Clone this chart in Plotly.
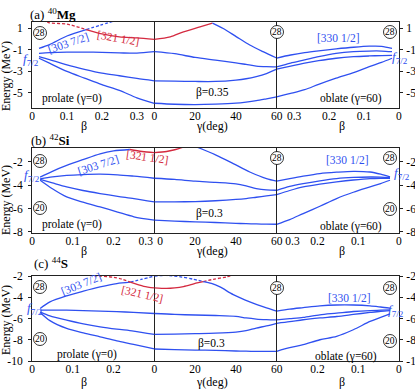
import plotly.graph_objects as go

W, H = 415, 389
BLUE = "#2f50f0"
RED = "#d42a40"
FONT = "Liberation Serif"
NB = "\u00a0"

# ---------------- (a) 40Mg  (beta up to 0.35) ----------------
mg_beta_max = 0.35
mg_e_range = [-6.4, 1.6]
mg_e_ticks = [1, -1, -3, -5]
mg_e_ticktext = ["1", "-1", "-3", "-5"]
mg_pro_ticks = [0, 0.1, 0.2, 0.3]
mg_pro_ticktext = ["0", "0.1", "0.2", "0.3"]
mg_gam_ticktext = ["0", "20", "40", "60"]
mg_obl_ticks = [0.3, 0.2, 0.1, 0]
mg_obl_ticktext = ["0.3", "0.2", "0.1", "0"]

mg_pro_beta = [0.02, 0.05, 0.1, 0.15, 0.2, 0.25, 0.3, 0.35]
mg_pro_lv2 = [-1.31, -1.25, -1.2, -1.2, -1.22, -1.27, -1.3, -1.16]
mg_pro_lv3 = [-1.62, -1.9, -2.39, -2.8, -3.16, -3.4, -3.65, -3.87]
mg_pro_lv4 = [-1.77, -2.23, -3.0, -3.62, -4.23, -4.76, -5.45, -5.96]
mg_pro_303_beta = [0.02, 0.05, 0.1, 0.155]
mg_pro_303_e = [-0.85, -0.5, 0.3, 0.9]
mg_pro_303d_beta = [0.155, 0.195, 0.235]
mg_pro_303d_e = [0.9, 1.3, 1.7]
mg_pro_321d_beta = [0.03, 0.05, 0.1, 0.155]
mg_pro_321d_e = [1.75, 1.52, 1.4, 0.9]
mg_pro_321_beta = [0.155, 0.2, 0.25, 0.3, 0.35]
mg_pro_321_e = [0.9, 0.5, 0.22, 0.12, -0.02]

mg_gam = [0, 10, 20, 30, 40, 45, 50, 55, 60]
mg_gam_lv2 = [-1.16, -1.35, -1.7, -1.95, -2.2, -2.35, -2.5, -2.56, -2.58]
mg_gam_lv3 = [-3.87, -3.9, -3.93, -3.93, -3.8, -3.68, -3.48, -3.2, -2.79]
mg_gam_lv4 = [-5.96, -6.05, -6.08, -6.04, -5.95, -5.85, -5.72, -5.55, -5.37]
mg_gam_321_g = [0, 7.8, 14.3, 22.4, 28.5]
mg_gam_321_e = [-0.02, 0.22, 0.69, 1.15, 1.5]
mg_gam_top_g = [28.5, 33.8, 40.3, 46.8, 53.3, 60]
mg_gam_top_e = [1.5, 1.0, 0.22, -0.54, -1.16, -1.75]

mg_obl_beta = [0.35, 0.31, 0.27, 0.23, 0.18, 0.13, 0.085, 0.05, 0.02]
mg_obl_lv1 = [-1.75, -1.47, -1.25, -1.08, -0.9, -0.75, -0.65, -0.66, -0.85]
mg_obl_lv2 = [-2.58, -2.22, -1.93, -1.62, -1.31, -1.15, -1.1, -1.1, -1.16]
mg_obl_lv3 = [-2.79, -2.5, -2.23, -2.0, -1.77, -1.63, -1.56, -1.52, -1.5]
mg_obl_lv4 = [-5.37, -5.05, -4.7, -4.2, -3.62, -3.1, -2.55, -2.15, -1.77]

# ---------------- (b) 42Si  (beta up to 0.3) ----------------
si_beta_max = 0.3
si_e_range = [-8.1, -0.8]
si_e_ticks = [-2, -4, -6, -8]
si_e_ticktext = ["-2", "-4", "-6", "-8"]
si_pro_ticks = [0, 0.1, 0.2, 0.3]
si_pro_ticktext = ["0", "0.1", "0.2", "0.3" + NB * 6]
si_gam_ticktext = [NB * 4 + "0", "20", "40", "60"]
si_obl_ticks = [0.3, 0.2, 0.1, 0]
si_obl_ticktext = [NB * 11 + "0.3", "0.2", "0.1", "0"]

si_pro_beta = [0.02, 0.05, 0.085, 0.125, 0.167, 0.21, 0.25, 0.3]
si_pro_lv2 = [-3.45, -3.28, -3.15, -3.08, -3.05, -3.1, -3.22, -3.4]
si_pro_lv3 = [-3.5, -3.8, -4.14, -4.45, -4.71, -4.95, -5.14, -5.43]
si_pro_lv4 = [-3.57, -4.3, -5.0, -5.45, -5.86, -6.3, -6.71, -7.0]
si_pro_303_beta = [0.02, 0.05, 0.085, 0.125, 0.167, 0.2, 0.24]
si_pro_303_e = [-3.3, -2.8, -2.3, -1.8, -1.3, -1.05, -0.93]
si_pro_321_beta = [0.24, 0.27, 0.3]
si_pro_321_e = [-0.93, -1.1, -1.2]

si_gam = [0, 10, 20, 30, 40, 45, 50, 55, 60]
si_gam_lv2 = [-3.4, -3.5, -3.65, -3.75, -3.88, -4.05, -4.28, -4.4, -4.43]
si_gam_lv3 = [-5.43, -5.43, -5.4, -5.33, -5.22, -5.14, -5.03, -4.92, -4.8]
si_gam_lv4 = [-7.0, -7.08, -7.14, -7.2, -7.27, -7.3, -7.32, -7.34, -7.35]
si_gam_321_g = [0, 6, 10, 13, 16]
si_gam_321_e = [-1.2, -1.1, -0.95, -0.8, -0.6]
si_gam_top_g = [19, 22, 30.5, 38.7, 46.8, 55, 60]
si_gam_top_e = [-0.6, -0.8, -1.43, -2.14, -2.86, -3.43, -3.65]

si_obl_beta = [0.3, 0.268, 0.235, 0.194, 0.153, 0.112, 0.071, 0.045, 0.022]
si_obl_lv1 = [-3.65, -3.43, -3.22, -3.0, -2.88, -2.8, -2.86, -3.05, -3.29]
si_obl_lv2 = [-4.43, -4.1, -3.86, -3.62, -3.43, -3.33, -3.29, -3.3, -3.34]
si_obl_lv3 = [-4.8, -4.45, -4.14, -3.9, -3.71, -3.55, -3.43, -3.4, -3.4]
si_obl_lv4 = [-7.35, -6.95, -6.43, -5.8, -5.14, -4.6, -4.14, -3.85, -3.57]

# ---------------- (c) 44S  (beta up to 0.3) ----------------
s_beta_max = 0.3
s_e_range = [-10, -2]
s_e_ticks = [-2, -4, -6, -8, -10]
s_e_ticktext = ["-2", "-4", "-6", "-8", "-10"]
s_pro_ticks = [0, 0.1, 0.2]
s_pro_ticktext = ["0", "0.1", "0.2"]
s_gam_ticktext = ["0", "20", "40", "60"]
s_obl_ticks = [0.2, 0.1, 0]
s_obl_ticktext = ["0.2", "0.1", "0"]

s_pro_beta = [0.02, 0.044, 0.085, 0.126, 0.167, 0.208, 0.249, 0.3]
s_pro_lv2 = [-5.21, -5.21, -5.21, -5.25, -5.3, -5.36, -5.42, -5.53]
s_pro_lv3 = [-5.37, -5.75, -6.15, -6.5, -6.78, -7.0, -7.18, -7.5]
s_pro_lv4 = [-5.43, -6.2, -6.93, -7.35, -7.72, -8.1, -8.43, -8.87]
s_pro_303_beta = [0.02, 0.044, 0.085, 0.126, 0.167, 0.208, 0.241]
s_pro_303_e = [-5.06, -4.44, -3.87, -3.43, -3.03, -2.71, -2.58]
s_pro_303d_beta = [0.241, 0.27, 0.3]
s_pro_303d_e = [-2.58, -2.3, -2.0]
s_pro_321d_beta = [0.14, 0.167, 0.2, 0.22, 0.241]
s_pro_321d_e = [-1.92, -2.0, -2.12, -2.3, -2.58]
s_pro_321_beta = [0.241, 0.274, 0.3]
s_pro_321_e = [-2.58, -2.97, -3.12]

s_gam = [0, 10, 20, 30, 40, 45, 50, 55, 60]
s_gam_lv2 = [-5.53, -5.62, -5.67, -5.72, -5.8, -5.95, -6.05, -6.1, -6.13]
s_gam_lv3 = [-7.5, -7.47, -7.43, -7.38, -7.28, -7.15, -6.9, -6.7, -6.45]
s_gam_lv4 = [-8.87, -8.93, -8.97, -9.0, -9.06, -9.08, -9.09, -9.09, -9.09]
s_gam_303d_g = [0, 6, 13.5, 19, 24]
s_gam_303d_e = [-2.0, -1.95, -2.1, -2.3, -2.53]
s_gam_321_g = [0, 6, 10, 14.3, 18, 21, 24]
s_gam_321_e = [-3.12, -3.17, -3.12, -3.0, -2.82, -2.65, -2.53]
s_gam_321d_g = [24, 29, 35.4, 38]
s_gam_321d_e = [-2.53, -2.31, -2.09, -1.95]
s_gam_top_g = [24, 28, 32.2, 38.7, 46.8, 55, 60]
s_gam_top_e = [-2.53, -2.7, -3.03, -3.75, -4.43, -5.0, -5.31]

s_obl_beta = [0.3, 0.268, 0.235, 0.194, 0.153, 0.112, 0.071, 0.045, 0.022]
s_obl_lv1 = [-5.31, -5.12, -4.98, -4.81, -4.73, -4.73, -4.81, -4.92, -5.03]
s_obl_lv2 = [-6.13, -6.02, -5.9, -5.65, -5.5, -5.34, -5.25, -5.22, -5.19]
s_obl_lv3 = [-6.45, -6.3, -6.12, -5.95, -5.81, -5.62, -5.43, -5.32, -5.25]
s_obl_lv4 = [-9.09, -8.75, -8.47, -8.0, -7.68, -7.06, -6.28, -5.9, -5.56]

gam_ticks = [0, 20, 40, 60]

# ---------------- figure assembly ----------------
panels = [
    dict(top=22, bottom=108, bmax=mg_beta_max, yr=mg_e_range, yt=mg_e_ticks, ytt=mg_e_ticktext,
         xt=[(mg_pro_ticks, mg_pro_ticktext), (gam_ticks, mg_gam_ticktext), (mg_obl_ticks, mg_obl_ticktext)],
         curves=[
             [(mg_pro_beta, mg_pro_lv2, BLUE, "solid"), (mg_pro_beta, mg_pro_lv3, BLUE, "solid"),
              (mg_pro_beta, mg_pro_lv4, BLUE, "solid"), (mg_pro_303_beta, mg_pro_303_e, BLUE, "solid"),
              (mg_pro_303d_beta, mg_pro_303d_e, BLUE, "dash"), (mg_pro_321d_beta, mg_pro_321d_e, RED, "dash"),
              (mg_pro_321_beta, mg_pro_321_e, RED, "solid")],
             [(mg_gam, mg_gam_lv2, BLUE, "solid"), (mg_gam, mg_gam_lv3, BLUE, "solid"),
              (mg_gam, mg_gam_lv4, BLUE, "solid"), (mg_gam_321_g, mg_gam_321_e, RED, "solid"),
              (mg_gam_top_g, mg_gam_top_e, BLUE, "solid")],
             [(mg_obl_beta, mg_obl_lv1, BLUE, "solid"), (mg_obl_beta, mg_obl_lv2, BLUE, "solid"),
              (mg_obl_beta, mg_obl_lv3, BLUE, "solid"), (mg_obl_beta, mg_obl_lv4, BLUE, "solid")],
         ]),
    dict(top=148, bottom=233, bmax=si_beta_max, yr=si_e_range, yt=si_e_ticks, ytt=si_e_ticktext,
         xt=[(si_pro_ticks, si_pro_ticktext), (gam_ticks, si_gam_ticktext), (si_obl_ticks, si_obl_ticktext)],
         curves=[
             [(si_pro_beta, si_pro_lv2, BLUE, "solid"), (si_pro_beta, si_pro_lv3, BLUE, "solid"),
              (si_pro_beta, si_pro_lv4, BLUE, "solid"), (si_pro_303_beta, si_pro_303_e, BLUE, "solid"),
              (si_pro_321_beta, si_pro_321_e, RED, "solid")],
             [(si_gam, si_gam_lv2, BLUE, "solid"), (si_gam, si_gam_lv3, BLUE, "solid"),
              (si_gam, si_gam_lv4, BLUE, "solid"), (si_gam_321_g, si_gam_321_e, RED, "solid"),
              (si_gam_top_g, si_gam_top_e, BLUE, "solid")],
             [(si_obl_beta, si_obl_lv1, BLUE, "solid"), (si_obl_beta, si_obl_lv2, BLUE, "solid"),
              (si_obl_beta, si_obl_lv3, BLUE, "solid"), (si_obl_beta, si_obl_lv4, BLUE, "solid")],
         ]),
    dict(top=276, bottom=361, bmax=s_beta_max, yr=s_e_range, yt=s_e_ticks, ytt=s_e_ticktext,
         xt=[(s_pro_ticks, s_pro_ticktext), (gam_ticks, s_gam_ticktext), (s_obl_ticks, s_obl_ticktext)],
         curves=[
             [(s_pro_beta, s_pro_lv2, BLUE, "solid"), (s_pro_beta, s_pro_lv3, BLUE, "solid"),
              (s_pro_beta, s_pro_lv4, BLUE, "solid"), (s_pro_303_beta, s_pro_303_e, BLUE, "solid"),
              (s_pro_303d_beta, s_pro_303d_e, BLUE, "dash"), (s_pro_321d_beta, s_pro_321d_e, RED, "dash"),
              (s_pro_321_beta, s_pro_321_e, RED, "solid")],
             [(s_gam, s_gam_lv2, BLUE, "solid"), (s_gam, s_gam_lv3, BLUE, "solid"),
              (s_gam, s_gam_lv4, BLUE, "solid"), (s_gam_303d_g, s_gam_303d_e, BLUE, "dash"),
              (s_gam_321_g, s_gam_321_e, RED, "solid"), (s_gam_321d_g, s_gam_321d_e, RED, "dash"),
              (s_gam_top_g, s_gam_top_e, BLUE, "solid")],
             [(s_obl_beta, s_obl_lv1, BLUE, "solid"), (s_obl_beta, s_obl_lv2, BLUE, "solid"),
              (s_obl_beta, s_obl_lv3, BLUE, "solid"), (s_obl_beta, s_obl_lv4, BLUE, "solid")],
         ]),
]

fig = go.Figure()
layout = dict(width=W, height=H, autosize=False, margin=dict(l=0, r=0, t=0, b=0, pad=0),
              template="none", paper_bgcolor="white", plot_bgcolor="white", showlegend=False,
              font=dict(family=FONT, size=11.5, color="black"))

XL, XR = 32 / W, 399 / W
CW = (XR - XL) / 3
AXC = "#222222"

for r, p in enumerate(panels):
    ydom = [1 - p["bottom"] / H, 1 - p["top"] / H]
    xranges = [[0, p["bmax"]], [0, 60], [p["bmax"], 0]]
    for c in range(3):
        k = r * 3 + c + 1
        sx = "" if k == 1 else str(k)
        tv, tt = p["xt"][c]
        layout["xaxis" + sx] = dict(
            domain=[XL + c * CW, XL + (c + 1) * CW], anchor="y" + sx, range=xranges[c],
            tickvals=tv, ticktext=tt, tickmode="array", showline=True, mirror=True,
            linecolor=AXC, linewidth=1, ticks="", showgrid=False, zeroline=False,
            ticklabelstandoff=-3,
            automargin=False, tickfont=dict(family=FONT, size=11.5, color="black"))
        ya = dict(domain=ydom, anchor="x" + sx, range=p["yr"], showgrid=False, zeroline=False,
                  automargin=False, linecolor=AXC, linewidth=1,
                  tickfont=dict(family=FONT, size=11.5, color="black"))
        if c == 0:
            ya.update(side="left", showline=True, mirror=True, ticks="outside", ticklen=3,
                      tickcolor=AXC, tickvals=p["yt"], ticktext=p["ytt"], tickmode="array",
                      ticklabelstandoff=3)
        elif c == 2:
            ya.update(side="right", showline=True, mirror=True, ticks="outside", ticklen=3,
                      tickcolor=AXC, tickvals=p["yt"], ticktext=p["ytt"], tickmode="array",
                      ticklabelstandoff=1)
        else:
            ya.update(showline=False, showticklabels=False, ticks="")
        layout["yaxis" + sx] = ya
        for xs, ys, col, dash in p["curves"][c]:
            fig.add_trace(go.Scatter(
                x=xs, y=ys, mode="lines", hoverinfo="skip",
                line=dict(color=col, width=1.3, dash="3px,2px" if dash == "dash" else "solid",
                          shape="spline", smoothing=0.8),
                xaxis="x" + sx, yaxis="y" + sx))


def px(x):
    return x / W


def py(y):
    return 1 - y / H


annotations = []
shapes = []


def text(x, y, s, size=11.5, color="black", angle=0, xanchor="center"):
    annotations.append(dict(x=px(x), y=py(y), xref="paper", yref="paper", text=s,
                            showarrow=False, xanchor=xanchor, yanchor="middle", textangle=angle,
                            font=dict(family=FONT, size=size, color=color)))


def circ(x, y, s):
    rr = 6.5
    shapes.append(dict(type="circle", xref="paper", yref="paper",
                       x0=px(x - rr), x1=px(x + rr), y0=py(y + rr), y1=py(y - rr),
                       line=dict(color="black", width=0.8), fillcolor="white", layer="above"))
    text(x, y, s, size=9.5)


F72 = "<i>f</i><sub>7/2</sub>"

# titles
text(28, 14, "(a) <sup>40</sup><b>Mg</b>", size=13, xanchor="left")
text(29, 140, "(b) <sup>42</sup><b>Si</b>", size=13, xanchor="left")
text(32, 263, "(c) <sup>44</sup><b>S</b>", size=13, xanchor="left")

# y titles and x titles
for yc, yb in [(76, 126), (200, 251), (320, 382)]:
    text(6, yc, "Energy (MeV)", size=12, angle=-90)
    text(84, yb, "β", size=12)
    text(212, yb, "γ(deg)", size=12)
    text(342, yb, "β", size=12)

# panel (a)
text(68, 43, "[303 7/2]", color=BLUE, angle=-19)
text(118, 38, "[321 1/2]", color=RED, angle=10)
text(338, 38, "[330 1/2]", color=BLUE)
text(31, 60, F72, size=13, color=BLUE)
text(400, 57, F72, size=13, color=BLUE)
text(72, 99, "prolate (γ=0)")
text(213, 92, "β=0.35")
text(351, 99, "oblate (γ=60)")
circ(40, 33, "28"); circ(277, 32, "28"); circ(390, 32, "28")

# panel (b)
text(98, 165, "[303 7/2]", color=BLUE, angle=-18)
text(147, 157, "[321 1/2]", color=RED, angle=8)
text(347, 160, "[330 1/2]", color=BLUE)
text(32, 175, F72, size=13, color=BLUE)
text(402, 173, F72, size=13, color=BLUE)
text(72, 224, "prolate (γ=0)")
text(210, 213, "β=0.3")
text(351, 226, "oblate (γ=60)")
circ(40, 161, "28"); circ(40, 208, "20"); circ(277, 158, "28")
circ(390, 158, "28"); circ(390, 209, "20")

# panel (c)
text(81, 284, "[303 7/2]", color=BLUE, angle=-22)
text(142, 294, "[321 1/2]", color=RED, angle=13)
text(349, 298, "[330 1/2]", color=BLUE)
text(35, 308, F72, size=13, color=BLUE)
text(396, 310, F72, size=13, color=BLUE)
text(87, 354, "prolate (γ=0)")
text(211, 343, "β=0.3")
text(346, 356, "oblate (γ=60)")
circ(40, 287, "28"); circ(40, 339, "20"); circ(277, 288, "28")
circ(390, 288, "28"); circ(390, 341, "20")

layout["annotations"] = annotations
layout["shapes"] = shapes
fig.update_layout(**layout)
fig.write_html("out.html", config={"displayModeBar": False},
               post_script="document.body.style.margin='0px';document.body.style.padding='0px';")
